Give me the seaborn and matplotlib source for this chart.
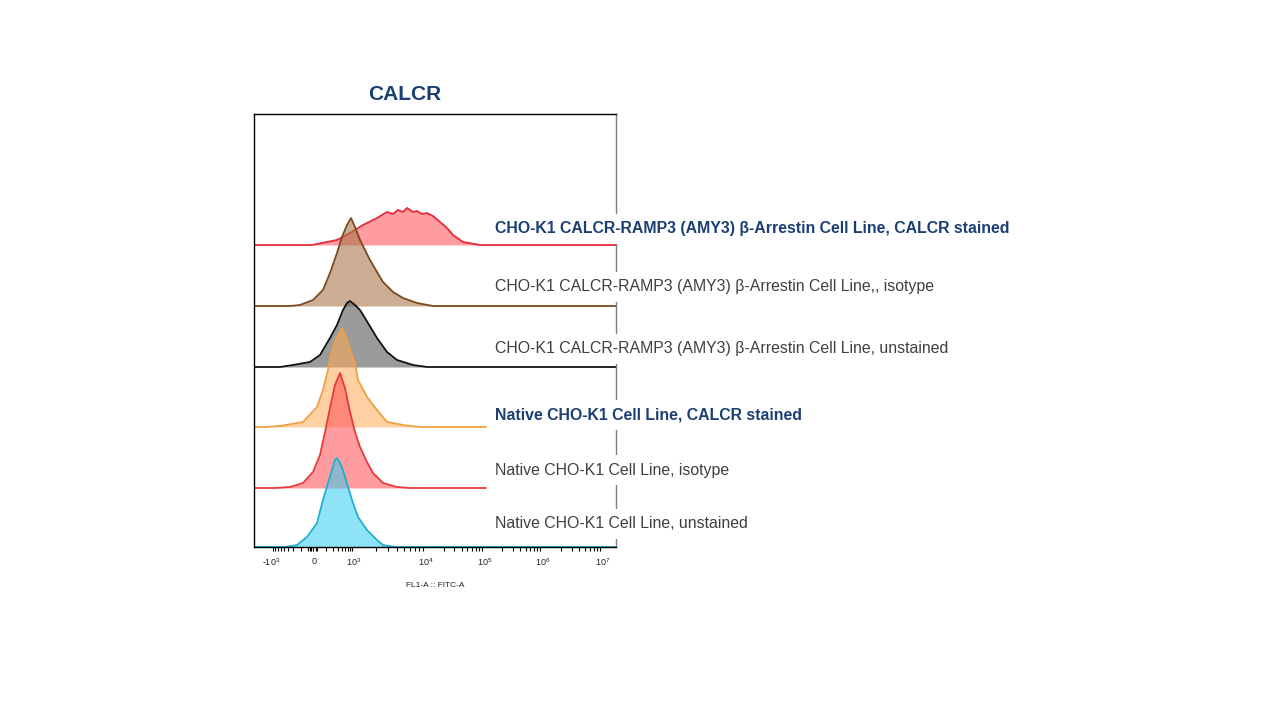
import numpy as np
import pandas as pd
import matplotlib
matplotlib.use("Agg")
import matplotlib.pyplot as plt
import seaborn as sns

# Offset histograms, FL1-A (FITC) in display channels (biexponential axis)
samples = [
    "CHO-K1 CALCR-RAMP3 (AMY3) \u03b2-Arrestin Cell Line, CALCR stained",
    "CHO-K1 CALCR-RAMP3 (AMY3) \u03b2-Arrestin Cell Line,, isotype",
    "CHO-K1 CALCR-RAMP3 (AMY3) \u03b2-Arrestin Cell Line, unstained",
    "Native CHO-K1 Cell Line, CALCR stained",
    "Native CHO-K1 Cell Line, isotype",
    "Native CHO-K1 Cell Line, unstained",
]

amy3_stained_x = [0, 58, 83, 96, 109, 123, 133, 139, 144, 149, 153, 159, 163, 168, 173, 179, 186, 193, 199, 209, 226, 362]
amy3_stained_y = [0, 0, 5, 12, 20, 27, 33, 31, 35, 33, 37, 33, 34, 31, 32, 29, 23, 17, 10, 3, 0, 0]

amy3_isotype_x = [0, 36, 46, 59, 69, 76, 83, 88, 93, 97, 101, 106, 111, 116, 123, 129, 139, 149, 163, 179, 362]
amy3_isotype_y = [0, 0, 1, 6, 16, 33, 53, 69, 81, 88, 79, 66, 56, 46, 34, 24, 14, 8, 3, 0, 0]

amy3_unstained_x = [0, 26, 39, 56, 66, 76, 83, 89, 93, 96, 101, 106, 114, 123, 133, 143, 159, 173, 362]
amy3_unstained_y = [0, 0, 2, 5, 12, 29, 42, 57, 64, 66, 62, 57, 44, 29, 15, 7, 2, 0, 0]

native_stained_x = [0, 11, 26, 49, 63, 69, 74, 78, 82, 88, 92, 96, 101, 104, 113, 123, 133, 149, 166, 232]
native_stained_y = [0, 0, 1, 5, 20, 37, 57, 77, 88, 99, 90, 77, 64, 47, 30, 17, 5, 2, 0, 0]

native_isotype_x = [0, 21, 36, 49, 59, 66, 71, 76, 81, 86, 91, 96, 101, 106, 113, 119, 129, 143, 156, 232]
native_isotype_y = [0, 0, 1, 5, 16, 33, 56, 80, 103, 115, 100, 76, 56, 41, 26, 15, 5, 1, 0, 0]

native_unstained_x = [0, 31, 43, 53, 63, 69, 74, 78, 81, 83, 86, 89, 94, 99, 104, 113, 123, 129, 141, 362]
native_unstained_y = [0, 0, 2, 10, 24, 47, 64, 77, 87, 89, 84, 77, 60, 44, 30, 17, 7, 2, 0, 0]

curves_x = [amy3_stained_x, amy3_isotype_x, amy3_unstained_x,
            native_stained_x, native_isotype_x, native_unstained_x]
curves_y = [amy3_stained_y, amy3_isotype_y, amy3_unstained_y,
            native_stained_y, native_isotype_y, native_unstained_y]

tick_labels = ["-$10^3$", "0", "$10^3$", "$10^4$", "$10^5$", "$10^6$", "$10^7$"]
tick_channels = [17, 60, 100, 172, 231, 289, 349]

# styles
row_offset = [302, 241, 180, 120, 59, 0]
line_colors = ["#e8283a", "#7b4a1e", "#111111", "#f0a040", "#e63a3a", "#1fb0d0"]
fill_colors = ["#ff5a5f", "#a8774a", "#595959", "#ffaa55", "#ff5a5f", "#33ccf0"]
fill_alpha = [0.6, 0.6, 0.6, 0.55, 0.6, 0.55]
label_y = [318, 260, 198, 132, 77, 23]
label_bold = [True, False, False, True, False, False]
navy = "#1b3f73"

sns.set_style("white")
plt.rcParams["font.family"] = ["Liberation Sans", "DejaVu Sans"]
plt.rcParams["mathtext.default"] = "regular"

fig = plt.figure(figsize=(12.8, 7.2), dpi=100)
ax = fig.add_axes([254 / 1280, 173 / 720, 362 / 1280, 433 / 720])

frames = []
for i, name in enumerate(samples):
    frames.append(pd.DataFrame({"channel": curves_x[i],
                                "count": np.array(curves_y[i]) + row_offset[i],
                                "sample": name}))
df = pd.concat(frames, ignore_index=True)

for i, name in enumerate(samples):
    sub = df[df["sample"] == name]
    ax.fill_between(sub["channel"], row_offset[i], sub["count"],
                    color=fill_colors[i], alpha=fill_alpha[i], lw=0, zorder=1 + i * 0.1)
    sns.lineplot(data=sub, x="channel", y="count", color=line_colors[i],
                 lw=1.3, ax=ax, sort=False, estimator=None, zorder=1.05 + i * 0.1)

ax.set_xlim(0, 362)
ax.set_ylim(0, 433)
ax.set_yticks([])
ax.set_ylabel("")

# biexponential-style ticks
ax.set_xticks(tick_channels)
ax.set_xticklabels(tick_labels)
p0, p3 = tick_channels[1], tick_channels[2]
minor = []
for m in range(2, 10):
    minor.append(p0 + (p3 - p0) * np.log10(m))
    minor.append(p0 - (p0 - tick_channels[0]) * np.log10(m))
    for k in range(2, 6):
        a, b = tick_channels[k], tick_channels[k + 1]
        minor.append(a + (b - a) * np.log10(m))
minor += list(np.arange(p0 - 6, p0 + 4, 1.5))
ax.set_xticks(minor, minor=True)
ax.tick_params(axis="x", which="major", direction="out", length=5, width=1.2,
               color="black", pad=2, labelsize=6.5, labelcolor="#222222")
ax.tick_params(axis="x", which="minor", direction="out", length=3, width=0.8,
               color="black", bottom=True)
ax.set_xlabel("FL1-A :: FITC-A", fontsize=6, labelpad=10, color="#222222")

for side in ["left", "top", "bottom"]:
    ax.spines[side].set_color("black")
    ax.spines[side].set_linewidth(1.0)
ax.spines["right"].set_color("#7f7f7f")
ax.spines["right"].set_linewidth(1.0)

for i, name in enumerate(samples):
    ax.text(241, label_y[i], name, ha="left", va="center",
            fontsize=11.4, fontweight="bold" if label_bold[i] else "normal",
            color=navy if label_bold[i] else "#404040",
            bbox=dict(boxstyle="square,pad=0.45", fc="white", ec="none"),
            zorder=5, clip_on=False)

fig.text(405 / 1280, 1 - 94 / 720, "CALCR", ha="center", va="center",
         fontsize=15, fontweight="bold", color=navy)

fig.savefig("out.png", dpi=100)
